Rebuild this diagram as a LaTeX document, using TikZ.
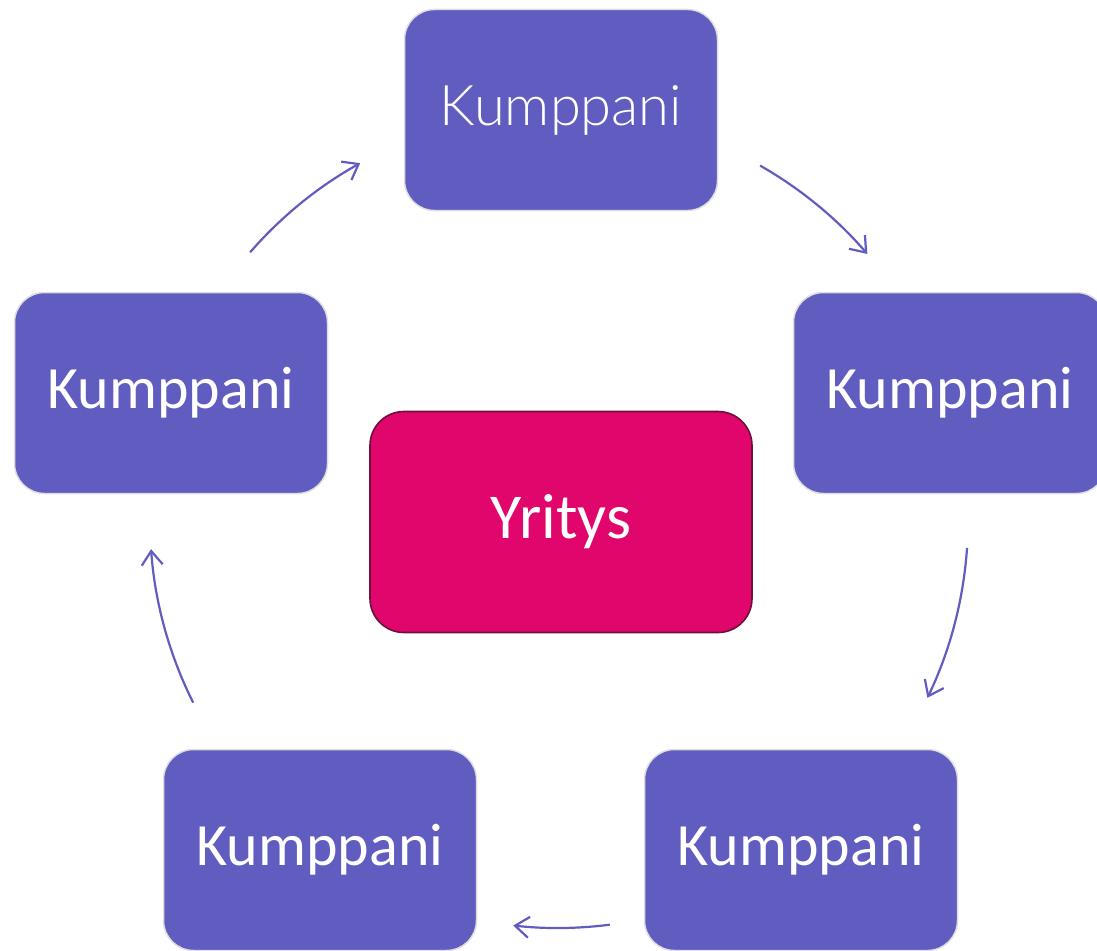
\documentclass[tikz,border=0pt]{standalone}
\usepackage{fontspec}
\setmainfont{Carlito}
\newfontfamily\lightfont{Lato Light}
\usetikzlibrary{arrows.meta,calc}
\definecolor{partner}{RGB}{97,93,192}
\definecolor{core}{RGB}{224,6,108}
\definecolor{coreline}{RGB}{110,15,60}
\definecolor{edgegray}{RGB}{222,222,222}
\tikzset{
  partnerbox/.style={rectangle, rounded corners=30pt, fill=partner, draw=edgegray, line width=1.5pt,
    minimum width=313pt, minimum height=201pt, text=white, font=\fontsize{60}{70}\selectfont, inner sep=0pt},
  corebox/.style={rectangle, rounded corners=34pt, fill=core, draw=coreline, line width=1.6pt,
    minimum width=382pt, minimum height=221pt, text=white, font=\fontsize{64}{74}\selectfont, inner sep=0pt},
  cyc/.style={draw=partner, line width=2.2pt, -{Straight Barb[length=14pt,width=21pt,line width=2.2pt]}}
}
\begin{document}
\begin{tikzpicture}[x=1pt,y=1pt]
\useasboundingbox (0,0) rectangle (1097,-950);
\node[partnerbox, font=\lightfont\fontsize{56}{66}\selectfont] (top) at (561,-110) {Kumppani};
\node[partnerbox] (left) at (171,-393) {Kumppani};
\node[partnerbox] (right) at (950,-393) {Kumppani};
\node[partnerbox] (bl) at (320,-850) {Kumppani};
\node[partnerbox] (br) at (801,-850) {Kumppani};
\node[corebox] (core) at (561,-522) {Yritys};
\coordinate (c) at (558,-520);
\coordinate (a1) at ($(c)+(139:408pt)$);
\coordinate (a2) at ($(c)+(60.3:408pt)$);
\coordinate (a3) at ($(c)+(-3.9:410pt)$);
\coordinate (a4) at ($(c)+(-82.7:408pt)$);
\coordinate (a5) at ($(c)+(206.6:408pt)$);
\draw[cyc] (a1) arc[start angle=139, end angle=119, radius=408pt];
\draw[cyc] (a2) arc[start angle=60.3, end angle=40.7, radius=408pt];
\draw[cyc] (a3) arc[start angle=-3.9, end angle=-25.7, radius=410pt];
\draw[cyc] (a4) arc[start angle=-82.7, end angle=-96.3, radius=408pt];
\draw[cyc] (a5) arc[start angle=206.6, end angle=184.1, radius=408pt];
\end{tikzpicture}
\end{document}
